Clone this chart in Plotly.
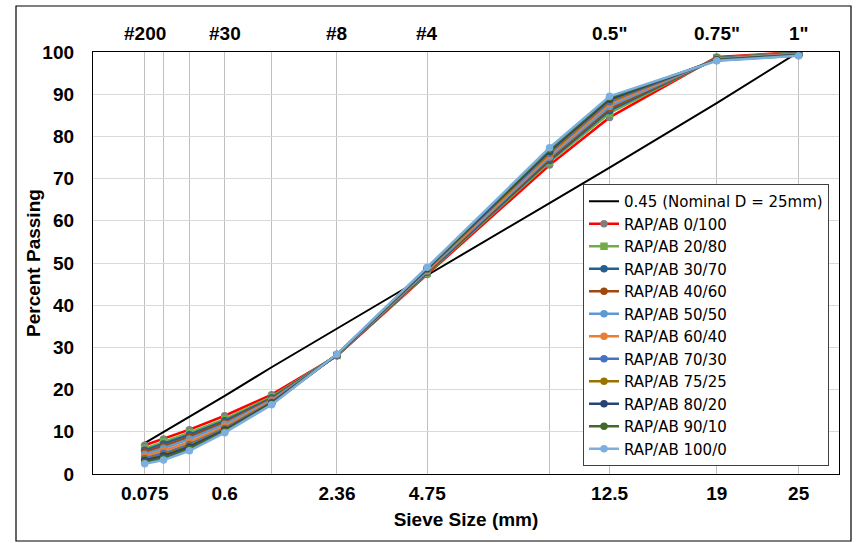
import plotly.graph_objects as go

sieves = [0.075, 0.15, 0.3, 0.6, 1.18, 2.36, 4.75, 9.5, 12.5, 19, 25]
bottom_labels = ["0.075", "", "", "0.6", "", "2.36", "4.75", "", "12.5", "19", "25"]
top_labels = ["#200", "", "", "#30", "", "#8", "#4", "", "0.5\"", "0.75\"", "1\""]

max_density = [7.3, 9.9, 13.5, 18.5, 25.3, 34.5, 47.1, 64.2, 72.6, 87.9, 100]

names = ["RAP/AB 0/100", "RAP/AB 20/80", "RAP/AB 30/70", "RAP/AB 40/60", "RAP/AB 50/50",
         "RAP/AB 60/40", "RAP/AB 70/30", "RAP/AB 75/25", "RAP/AB 80/20", "RAP/AB 90/10",
         "RAP/AB 100/0"]

rap_0_100 = [6.8, 8.3, 10.5, 13.8, 18.8, 28.0, 47.3, 73.2, 84.5, 98.8, 100]
rap_20_80 = [6.0, 7.6, 9.8, 13.0, 18.3, 28.1, 47.6, 73.9, 85.5, 98.6, 99.9]
rap_30_70 = [5.6, 7.1, 9.3, 12.6, 18.0, 28.1, 47.8, 74.3, 86.1, 98.5, 99.8]
rap_40_60 = [5.2, 6.6, 8.8, 12.2, 17.8, 28.1, 47.9, 74.7, 86.6, 98.4, 99.7]
rap_50_50 = [4.7, 6.1, 8.3, 11.8, 17.5, 28.2, 48.1, 75.1, 87.1, 98.4, 99.6]
rap_60_40 = [4.2, 5.5, 7.6, 11.3, 17.2, 28.2, 48.3, 75.6, 87.7, 98.3, 99.5]
rap_70_30 = [3.7, 4.9, 7.0, 10.8, 17.0, 28.2, 48.5, 76.0, 88.2, 98.2, 99.4]
rap_75_25 = [3.4, 4.6, 6.7, 10.6, 16.9, 28.3, 48.6, 76.2, 88.5, 98.2, 99.3]
rap_80_20 = [3.2, 4.3, 6.4, 10.4, 16.8, 28.3, 48.7, 76.5, 88.8, 98.1, 99.3]
rap_90_10 = [2.8, 3.8, 6.0, 10.1, 16.6, 28.3, 48.9, 76.9, 89.2, 98.0, 99.2]
rap_100_0 = [2.4, 3.3, 5.5, 9.8, 16.4, 28.4, 49.0, 77.3, 89.5, 97.9, 99.1]

series = [rap_0_100, rap_20_80, rap_30_70, rap_40_60, rap_50_50, rap_60_40,
          rap_70_30, rap_75_25, rap_80_20, rap_90_10, rap_100_0]
line_colors = ["#FF0000", "#70AD47", "#255E91", "#9E480E", "#5B9BD5", "#ED7D31",
               "#4472C4", "#997300", "#264478", "#43682B", "#7CAFDD"]
marker_colors = ["#7F7F7F", "#70AD47", "#255E91", "#9E480E", "#5B9BD5", "#ED7D31",
                 "#4472C4", "#997300", "#264478", "#43682B", "#7CAFDD"]
symbols = ["circle", "square", "circle", "circle", "circle", "circle",
           "circle", "circle", "circle", "circle", "circle"]

xs = [d ** 0.45 for d in sieves]

FONT = "Arial, Liberation Sans, sans-serif"

fig = go.Figure()
fig.add_trace(go.Scatter(x=xs, y=max_density, mode="lines", name="0.45 (Nominal D = 25mm)",
                         line=dict(color="black", width=2)))
for name, vals, lc, mc, sym in zip(names, series, line_colors, marker_colors, symbols):
    fig.add_trace(go.Scatter(x=xs, y=vals, mode="lines+markers", name=name,
                             line=dict(color=lc, width=2.5),
                             marker=dict(color=mc, size=7.5, symbol=sym)))

W, H = 860, 543
L, R, T, B = 93, 21, 52, 69
pw, ph = W - L - R, H - T - B

def px_x(p):
    return (p - L) / pw
def px_y(p):
    return (H - B - p) / ph

for xv, lab in zip(xs, top_labels):
    if lab:
        fig.add_annotation(x=xv, y=1, xref="x", yref="paper", text=lab, showarrow=False,
                           yanchor="bottom", yshift=6,
                           font=dict(family=FONT, size=19, color="black", weight="bold"))

# y-axis title
fig.add_annotation(x=px_x(33), y=0.5, xref="paper", yref="paper", text="Percent Passing",
                   showarrow=False, textangle=-90, xanchor="center", yanchor="middle",
                   font=dict(family=FONT, size=19, color="black", weight="bold"))

# outer chart border
fig.add_shape(type="rect", xref="paper", yref="paper",
              x0=px_x(16), x1=px_x(851), y0=px_y(541), y1=px_y(6),
              line=dict(color="black", width=1.2), layer="below")

fig.update_layout(
    width=W, height=H,
    margin=dict(l=L, r=R, t=T, b=B),
    paper_bgcolor="white", plot_bgcolor="white",
    font=dict(family=FONT, color="black"),
    legend=dict(x=px_x(829), y=px_y(466), xanchor="right", yanchor="bottom",
                bgcolor="white", bordercolor="#404040", borderwidth=1,
                font=dict(family="DejaVu Sans, Arial, sans-serif", size=15, color="black"),
                tracegroupgap=0),
    xaxis=dict(range=[0, 4.5], tickmode="array", tickvals=xs, ticktext=bottom_labels,
               showgrid=True, gridcolor="#BFBFBF", gridwidth=1,
               showline=True, linecolor="black", linewidth=1, mirror=True,
               zeroline=False, ticks="", ticklabelstandoff=2,
               tickfont=dict(family=FONT, size=19, color="black", weight="bold"),
               title=dict(text="Sieve Size (mm)", standoff=9,
                          font=dict(family=FONT, size=19, color="black", weight="bold"))),
    yaxis=dict(range=[0, 100], dtick=10, showgrid=True, gridcolor="#D9D9D9", gridwidth=1,
               showline=True, linecolor="black", linewidth=1.3, mirror=True,
               zeroline=False, ticks="", ticklabelstandoff=14,
               tickfont=dict(family=FONT, size=19, color="black", weight="bold")),
)

fig.write_html("out.html")
